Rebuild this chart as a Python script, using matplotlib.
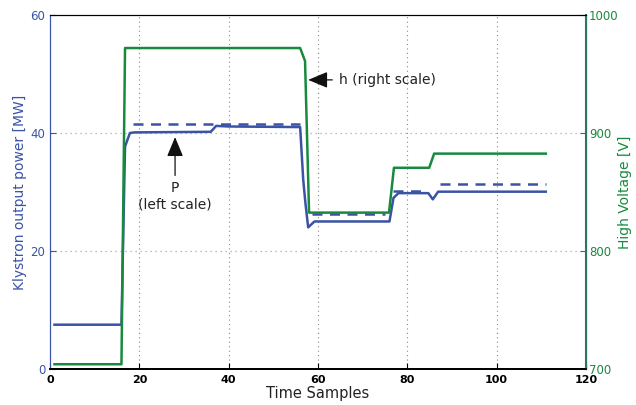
import matplotlib.pyplot as plt
import numpy as np

# klystron output power P [MW] (solid)
p_x = [1, 16, 16.8, 17.9, 19, 36, 37.2, 40, 56, 56.7, 57.2, 57.8, 59.2, 76, 76.9, 78, 84.7, 85.7, 86.9, 111]
p_y = [7.5, 7.5, 37.7, 40.0, 40.1, 40.2, 41.2, 41.1, 41.0, 32, 28, 24, 25, 25, 29, 29.8, 29.8, 28.75, 30.05, 30.05]

# reference power (dashed), NaN separates the steps
r_x = [18.6, 56, np.nan, 58.6, 75, np.nan, 76.8, 84, np.nan, 87.3, 111]
r_y = [41.6, 41.6, np.nan, 26.2, 26.2, np.nan, 30.2, 30.2, np.nan, 31.3, 31.3]

# high voltage h [V]
h_x = [1, 16, 16.8, 56, 57.1, 58, 75.9, 77, 84.9, 86, 111]
h_y = [704, 704, 972, 972, 961, 832.5, 832.5, 870.5, 870.5, 882.5, 882.5]

x_ticks = [0, 20, 40, 60, 80, 100, 120]
p_ticks = [0, 20, 40, 60]
h_ticks = [700, 800, 900, 1000]

blue = '#3A53A4'
green = '#178A3E'
spine_green = '#2B7565'

fig = plt.figure(figsize=(6.36, 4.05), dpi=100)
ax = fig.add_axes([0.0786, 0.089, 0.8428, 0.874])
ax2 = ax.twinx()

ax.plot(p_x, p_y, color=blue, lw=1.8, zorder=3)
ax.plot(r_x, r_y, color=blue, lw=1.8, ls=(0, (4, 3)), zorder=3)
ax2.plot(h_x, h_y, color=green, lw=1.8)

ax.set_xlim(0, 120)
ax.set_ylim(0, 60)
ax2.set_ylim(700, 1000)
ax.set_xticks(x_ticks)
ax.set_yticks(p_ticks)
ax2.set_yticks(h_ticks)

ax.grid(False)
for v in x_ticks[1:-1]:
    ax.axvline(v, color='#888888', lw=0.8, ls=(0, (1, 3)), zorder=0)
for v in p_ticks[1:-1]:
    ax.axhline(v, color='#9AA8D8', lw=0.9, ls=(0, (1, 3)), zorder=0)

ax.tick_params(axis='x', direction='in', length=4, labelsize=8, pad=4)
for lab in ax.get_xticklabels():
    lab.set_fontweight('bold')
ax.tick_params(axis='y', direction='in', length=4, colors=blue, labelsize=8.5)
ax2.tick_params(axis='y', direction='in', length=4, colors=green, labelsize=8.5, pad=2)

ax.spines['left'].set_color(blue)
ax2.spines['left'].set_color(blue)
ax2.spines['right'].set_color(spine_green)
ax2.spines['right'].set_linewidth(1.5)
ax.spines['bottom'].set_linewidth(1.3)
ax2.spines['bottom'].set_linewidth(1.3)

ax.set_xlabel('Time Samples', fontsize=10.5, color='#222222', labelpad=1)
ax.set_ylabel('Klystron output power [MW]', fontsize=10, color=blue, labelpad=2)
ax2.set_ylabel('High Voltage [V]', fontsize=10, color=green, labelpad=0)

arrow = dict(arrowstyle='-|>,head_width=0.5,head_length=1.2', color='#111111', lw=0.9,
             shrinkA=0, shrinkB=0)
ax.annotate('', xy=(28, 39.3), xytext=(28, 32.8), arrowprops=arrow)
ax.text(28, 31.8, 'P\n(left scale)', ha='center', va='top', fontsize=10, color='#222222', linespacing=1.2)

ax.annotate('', xy=(57.8, 49), xytext=(63.2, 49), arrowprops=arrow)
ax.text(64.6, 49, 'h (right scale)', ha='left', va='center', fontsize=10, color='#222222')

fig.savefig('out.png', dpi=100)
